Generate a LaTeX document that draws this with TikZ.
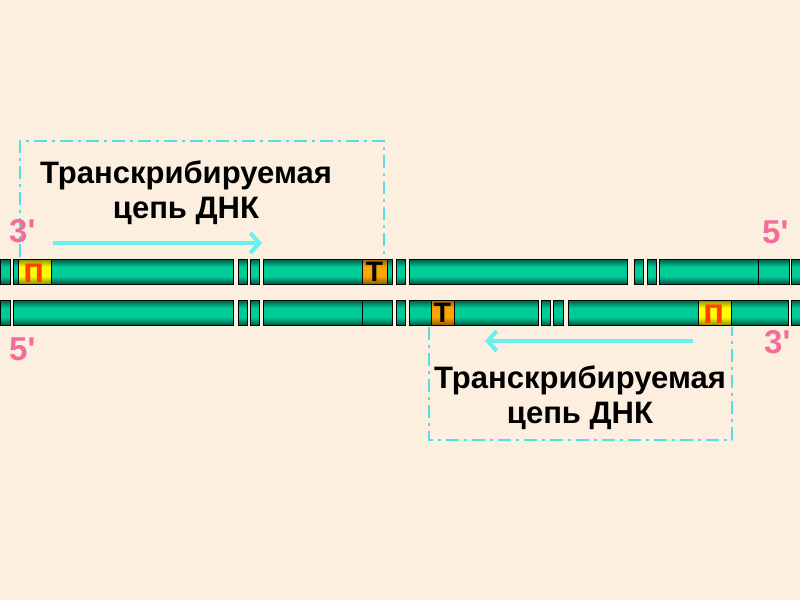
\documentclass[tikz,border=0pt]{standalone}
\usepackage{fontspec}
\setmainfont{Liberation Sans}
\newfontfamily\endfont{Liberation Sans}
\usetikzlibrary{arrows.meta}

\definecolor{bgCream}{HTML}{FDEFDF}
\definecolor{promRed}{HTML}{FF4000}
\definecolor{frameCyan}{HTML}{55DDE8}
\definecolor{arrowCyan}{HTML}{66F0F2}
\definecolor{endPink}{HTML}{F46C9C}
\definecolor{strandTeal}{HTML}{00CC98}
\definecolor{strandDark}{HTML}{005A42}
\definecolor{promYellow}{HTML}{FFFF00}
\definecolor{promDark}{HTML}{8C8C00}
\definecolor{termOrange}{HTML}{FAA500}
\definecolor{termDark}{HTML}{965A00}

% vertical shadings: dark rim, bright middle
\pgfdeclareverticalshading{strandShade}{100bp}{color(0bp)=(strandDark); color(25bp)=(strandDark); color(41bp)=(strandTeal); color(59bp)=(strandTeal); color(75bp)=(strandDark); color(100bp)=(strandDark)}
\pgfdeclareverticalshading{promShade}{100bp}{color(0bp)=(promDark); color(25bp)=(promDark); color(41bp)=(promYellow); color(59bp)=(promYellow); color(75bp)=(promDark); color(100bp)=(promDark)}
\pgfdeclareverticalshading{termShade}{100bp}{color(0bp)=(termDark); color(25bp)=(termDark); color(41bp)=(termOrange); color(59bp)=(termOrange); color(75bp)=(termDark); color(100bp)=(termDark)}

\tikzset{
  segment/.style={draw=black, line width=0.9pt, shading=strandShade},
  promoter/.style={draw=black, line width=0.9pt, shading=promShade},
  terminator/.style={draw=black, line width=0.9pt, shading=termShade},
  frame/.style={frameCyan, line width=2pt, dash pattern=on 13pt off 5pt on 3pt off 5pt},
  direction/.style={arrowCyan, line width=4pt, -{Straight Barb[length=9pt, width=20pt]}},
  strandText/.style={align=center, inner sep=0pt, font=\fontsize{31}{35}\selectfont\bfseries},
  endLabel/.style={anchor=base west, inner sep=0pt, endPink, font=\endfont\fontsize{33}{36}\selectfont\bfseries}
}

\begin{document}
\begin{tikzpicture}[x=1pt, y=-1pt]
    \useasboundingbox (0,0) rectangle (800,600);
    \fill[bgCream] (0,0) rectangle (800,600);

    % Define the corners of the two frames
    \coordinate (frameA1) at (20,257);
    \coordinate (frameA2) at (384,141);
    \coordinate (frameA3) at (384,257);
    \coordinate (frameB1) at (429,327);
    \coordinate (frameB2) at (732,440);
    \coordinate (frameB3) at (732,327);

    % Define the ends of the arrows
    \coordinate (arrowA1) at (53,243);
    \coordinate (arrowA2) at (262,243);
    \coordinate (arrowB1) at (693,341);
    \coordinate (arrowB2) at (485,341);

    % Draw the frames (open towards the strands)
    \draw[frame] (frameA1) |- (frameA2) -- (frameA3);
    \draw[frame] (frameB1) |- (frameB2) -- (frameB3);

    % Draw the upper strand
    \foreach \xa/\xb in {0.5/10, 13/233, 238/247, 250/259, 263/392, 396/405, 409/627, 634/643, 647/656, 659/758, 758/789, 791/805}
        \draw[segment] (\xa,259) rectangle (\xb,284);
    % Draw the lower strand
    \foreach \xa/\xb in {0.5/10, 13/233, 238/247, 250/259, 263/362, 362/392, 396/405, 409/538, 541/550, 553/563, 568/788, 791/805}
        \draw[segment] (\xa,300) rectangle (\xb,325);

    % Promoters and terminators
    \draw[promoter] (18,259) rectangle (51,284);
    \node[inner sep=0pt, promRed, font=\fontsize{35}{35}\selectfont\bfseries] (promA) at (34.5,273) {п};
    \draw[promoter] (698,300) rectangle (731,325);
    \node[inner sep=0pt, promRed, font=\fontsize{35}{35}\selectfont\bfseries] (promB) at (714.5,314) {п};
    \draw[terminator] (362,259) rectangle (387,284);
    \node[inner sep=0pt, font=\fontsize{28}{28}\selectfont\bfseries] (termA) at (374.5,271.5) {Т};
    \draw[terminator] (431,300) rectangle (454,325);
    \node[inner sep=0pt, font=\fontsize{28}{28}\selectfont\bfseries] (termB) at (442.5,312.5) {Т};

    % Draw the labels
    \node[strandText] (textA) at (186,193) {Транскрибируемая\\цепь ДНК};
    \node[strandText] (textB) at (580,398) {Транскрибируемая\\цепь ДНК};
    \node[endLabel] (endA3) at (9,242) {3'};
    \node[endLabel] (endA5) at (762,243) {5'};
    \node[endLabel] (endB5) at (9,360) {5'};
    \node[endLabel] (endB3) at (764,353) {3'};

    % Draw the arrows
    \draw[direction] (arrowA1) -- (arrowA2);
    \draw[direction] (arrowB1) -- (arrowB2);
\end{tikzpicture}
\end{document}
